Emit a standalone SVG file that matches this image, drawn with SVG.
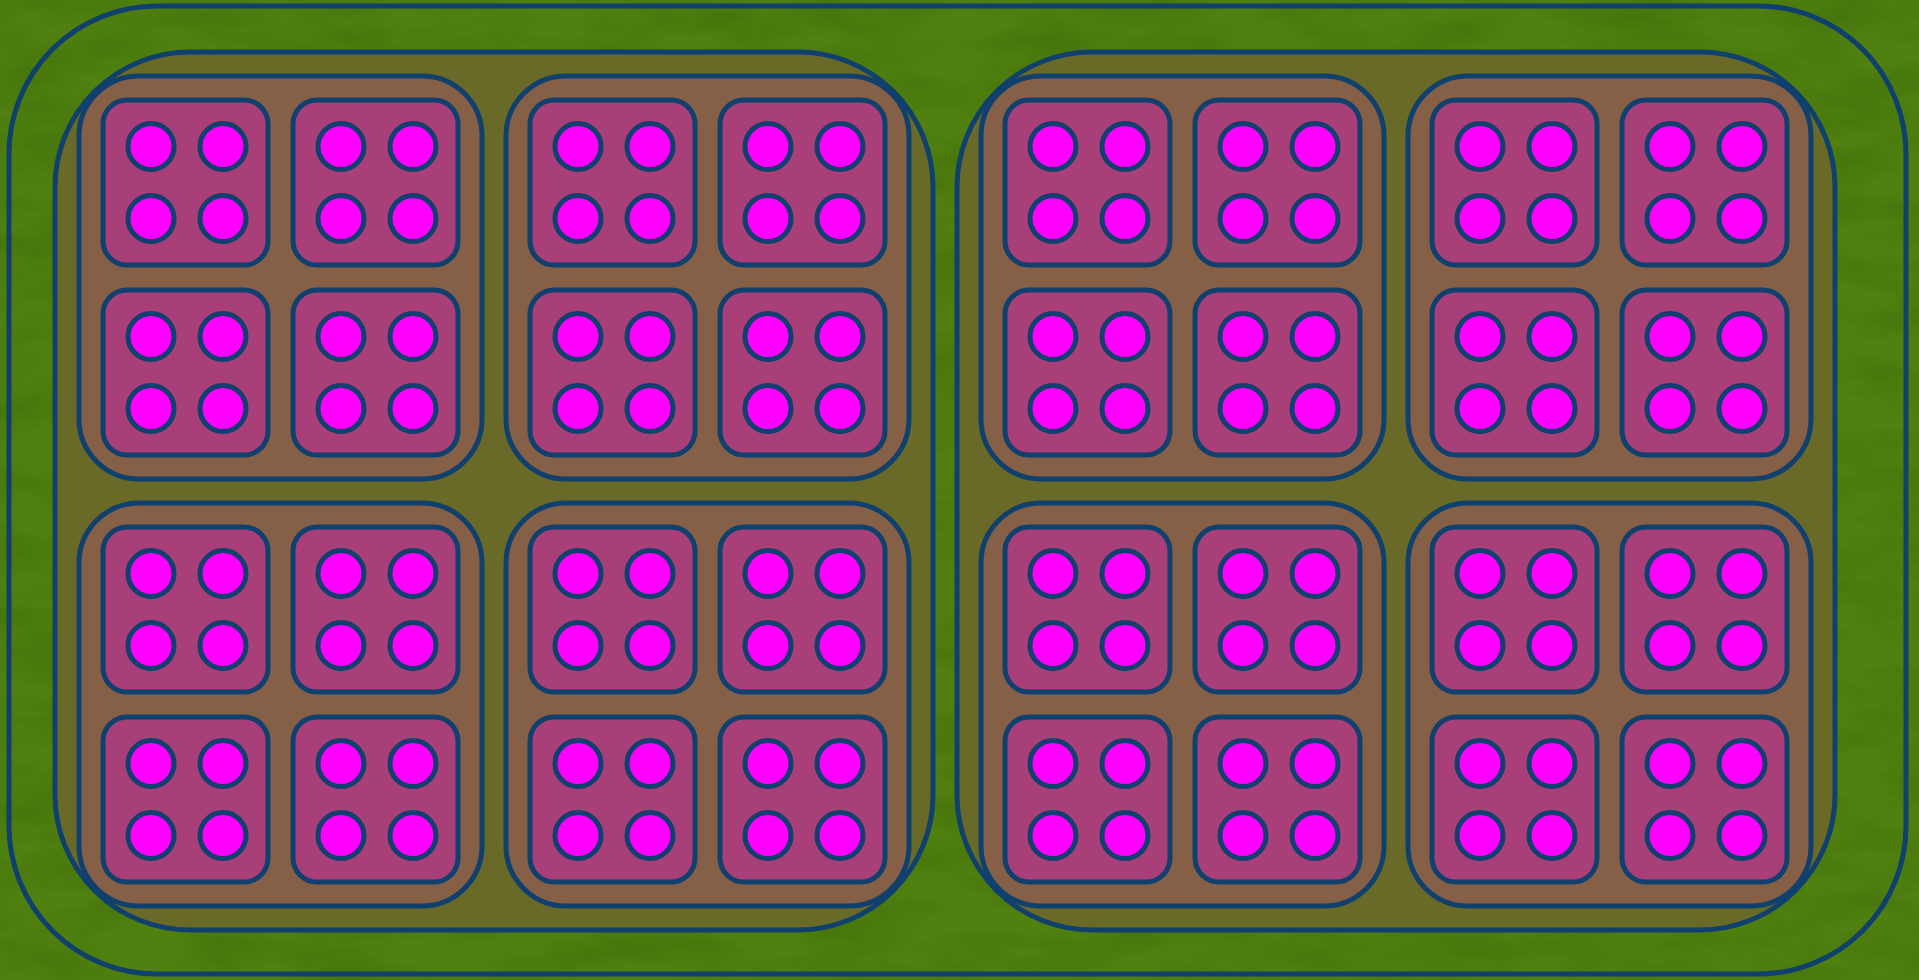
<svg xmlns="http://www.w3.org/2000/svg" xmlns:xlink="http://www.w3.org/1999/xlink" width="1919" height="980" viewBox="0 0 1919 980">
<defs>
<filter id="tex" x="0" y="0" width="100%" height="100%" color-interpolation-filters="sRGB">
<feTurbulence type="fractalNoise" baseFrequency="0.01 0.03" numOctaves="4" seed="7"/>
<feColorMatrix type="matrix" values="0 0 0 0 0.22  0 0 0 0 0.40  0 0 0 0 0.02  1.4 0 0 0 -0.5"/>
</filter>
<style>
.ln{stroke:#0f406e;stroke-width:5;}
.outer{fill:none;}
.half{fill:#696a27;}
.quad{fill:#865f47;}
.box{fill:#a83f78;}
.dot{fill:#ff00ff;stroke:#0f406e;stroke-width:5;}
</style>
<g id="die">
<rect class="box ln" x="0" y="0" width="165" height="165" rx="24"/>
<circle class="dot" cx="48" cy="46.5" r="23"/>
<circle class="dot" cx="120" cy="46.5" r="23"/>
<circle class="dot" cx="48" cy="118.5" r="23"/>
<circle class="dot" cx="120" cy="118.5" r="23"/>
</g>
</defs>
<g id="background">
<rect x="0" y="0" width="1919" height="980" fill="#508010"/>
<rect x="0" y="0" width="1919" height="980" filter="url(#tex)" opacity="0.6"/>
</g>
<g id="outer-frame">
<rect class="outer ln" x="9" y="6" width="1897" height="968" rx="148"/>
</g>
<g id="half-left">
<rect class="half ln" x="55" y="52" width="878" height="878" rx="135"/>
</g>
<g id="half-right">
<rect class="half ln" x="957" y="52" width="878" height="878" rx="135"/>
</g>
<g id="quad-1"><rect class="quad ln" x="79" y="76" width="403" height="403" rx="60"/></g>
<g id="quad-2"><rect class="quad ln" x="506" y="76" width="403" height="403" rx="60"/></g>
<g id="quad-3"><rect class="quad ln" x="79" y="503" width="403" height="403" rx="60"/></g>
<g id="quad-4"><rect class="quad ln" x="506" y="503" width="403" height="403" rx="60"/></g>
<g id="quad-5"><rect class="quad ln" x="981" y="76" width="403" height="403" rx="60"/></g>
<g id="quad-6"><rect class="quad ln" x="1408" y="76" width="403" height="403" rx="60"/></g>
<g id="quad-7"><rect class="quad ln" x="981" y="503" width="403" height="403" rx="60"/></g>
<g id="quad-8"><rect class="quad ln" x="1408" y="503" width="403" height="403" rx="60"/></g>
<g id="box-r1-c1" transform="translate(103,100)"><use xlink:href="#die" href="#die"/></g>
<g id="box-r1-c2" transform="translate(293,100)"><use xlink:href="#die" href="#die"/></g>
<g id="box-r1-c3" transform="translate(530,100)"><use xlink:href="#die" href="#die"/></g>
<g id="box-r1-c4" transform="translate(720,100)"><use xlink:href="#die" href="#die"/></g>
<g id="box-r1-c5" transform="translate(1005,100)"><use xlink:href="#die" href="#die"/></g>
<g id="box-r1-c6" transform="translate(1195,100)"><use xlink:href="#die" href="#die"/></g>
<g id="box-r1-c7" transform="translate(1432,100)"><use xlink:href="#die" href="#die"/></g>
<g id="box-r1-c8" transform="translate(1622,100)"><use xlink:href="#die" href="#die"/></g>
<g id="box-r2-c1" transform="translate(103,290)"><use xlink:href="#die" href="#die"/></g>
<g id="box-r2-c2" transform="translate(293,290)"><use xlink:href="#die" href="#die"/></g>
<g id="box-r2-c3" transform="translate(530,290)"><use xlink:href="#die" href="#die"/></g>
<g id="box-r2-c4" transform="translate(720,290)"><use xlink:href="#die" href="#die"/></g>
<g id="box-r2-c5" transform="translate(1005,290)"><use xlink:href="#die" href="#die"/></g>
<g id="box-r2-c6" transform="translate(1195,290)"><use xlink:href="#die" href="#die"/></g>
<g id="box-r2-c7" transform="translate(1432,290)"><use xlink:href="#die" href="#die"/></g>
<g id="box-r2-c8" transform="translate(1622,290)"><use xlink:href="#die" href="#die"/></g>
<g id="box-r3-c1" transform="translate(103,527)"><use xlink:href="#die" href="#die"/></g>
<g id="box-r3-c2" transform="translate(293,527)"><use xlink:href="#die" href="#die"/></g>
<g id="box-r3-c3" transform="translate(530,527)"><use xlink:href="#die" href="#die"/></g>
<g id="box-r3-c4" transform="translate(720,527)"><use xlink:href="#die" href="#die"/></g>
<g id="box-r3-c5" transform="translate(1005,527)"><use xlink:href="#die" href="#die"/></g>
<g id="box-r3-c6" transform="translate(1195,527)"><use xlink:href="#die" href="#die"/></g>
<g id="box-r3-c7" transform="translate(1432,527)"><use xlink:href="#die" href="#die"/></g>
<g id="box-r3-c8" transform="translate(1622,527)"><use xlink:href="#die" href="#die"/></g>
<g id="box-r4-c1" transform="translate(103,717)"><use xlink:href="#die" href="#die"/></g>
<g id="box-r4-c2" transform="translate(293,717)"><use xlink:href="#die" href="#die"/></g>
<g id="box-r4-c3" transform="translate(530,717)"><use xlink:href="#die" href="#die"/></g>
<g id="box-r4-c4" transform="translate(720,717)"><use xlink:href="#die" href="#die"/></g>
<g id="box-r4-c5" transform="translate(1005,717)"><use xlink:href="#die" href="#die"/></g>
<g id="box-r4-c6" transform="translate(1195,717)"><use xlink:href="#die" href="#die"/></g>
<g id="box-r4-c7" transform="translate(1432,717)"><use xlink:href="#die" href="#die"/></g>
<g id="box-r4-c8" transform="translate(1622,717)"><use xlink:href="#die" href="#die"/></g>
<g id="connectors"></g>
</svg>
